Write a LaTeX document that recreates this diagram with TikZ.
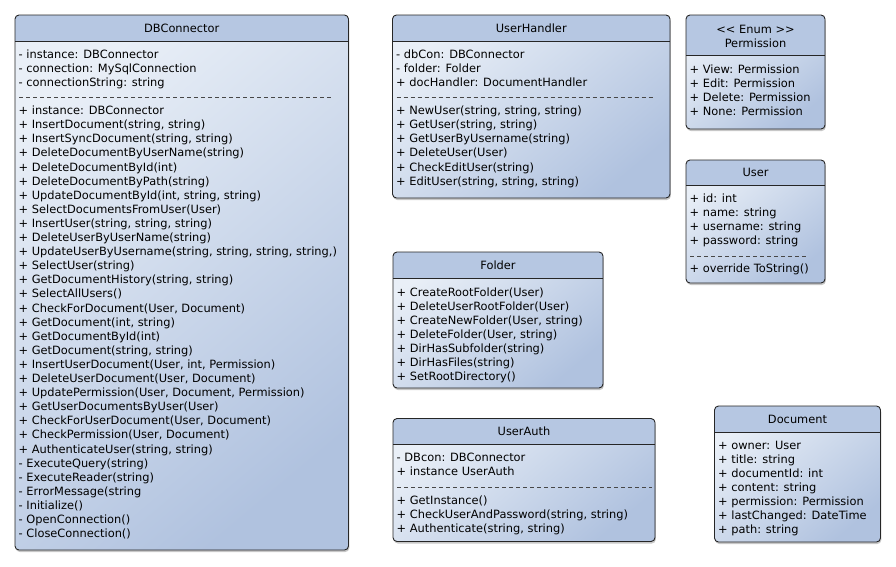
\documentclass[tikz,border=0pt]{standalone}
\usepackage{fontspec}
\setmainfont{DejaVu Sans}

\definecolor{classhead}{RGB}{182,199,226}
\definecolor{classlight}{RGB}{233,239,247}
\definecolor{classdark}{RGB}{176,194,223}
\definecolor{classline}{RGB}{38,38,38}

\tikzset{
	classbox/.style={draw=classline, line width=0.9pt, rounded corners=4pt},
	classbody/.style={rounded corners=4pt, top color=classlight, bottom color=classdark, shading angle=40},
	classshadow/.style={fill=black, opacity=0.22, rounded corners=4pt},
	classname/.style={anchor=base, inner sep=0pt, font=\fontsize{11.4}{14.1}\selectfont},
	member/.style={anchor=base west, inner sep=0pt, font=\fontsize{11.4}{14.1}\selectfont},
	separator/.style={draw=classline!85, line width=0.8pt, dash pattern=on 4.3pt off 2.7pt}
}

% frame of one class: x1, y1, x2, y2, bottom of the name compartment
\newcommand{\classframe}[5]{
	\fill[classshadow] ($(#1,#2)+(0.8,2)$) rectangle ($(#3,#4)+(0.8,2)$);
	\shade[classbody] (#1,#2) rectangle (#3,#4);
	\begin{scope}
		\clip[rounded corners=4pt] (#1,#2) rectangle (#3,#4);
		\fill[classhead] (#1,#2) rectangle (#3,#5);
	\end{scope}
	\draw[classbox] (#1,#2) rectangle (#3,#4);
	\draw[classline, line width=0.9pt] (#1,#5) -- (#3,#5);
}

\usetikzlibrary{calc}

\begin{document}
\begin{tikzpicture}[x=1pt, y=-1pt]
	\fill[white] (0,0) rectangle (896,566);

	% DBConnector
	\classframe{15}{15}{348.5}{550}{41}
	\node[classname] (dbc) at (181.75,32.2) {DBConnector};
	\foreach \m [count=\i from 0] in {{- instance: DBConnector}, {- connection: MySqlConnection}, {- connectionString: string}}
		\node[member] (dbc-a\i) at (18.5,58.3+14.1*\i) {\m};
	\draw[separator] (19,97.5) -- (333,97.5);
	\foreach \m [count=\i from 0] in {{+ instance: DBConnector}, {+ InsertDocument(string, string)}, {+ InsertSyncDocument(string, string)},
		{+ DeleteDocumentByUserName(string)}, {+ DeleteDocumentById(int)}, {+ DeleteDocumentByPath(string)},
		{+ UpdateDocumentById(int, string, string)}, {+ SelectDocumentsFromUser(User)}, {+ InsertUser(string, string, string)},
		{+ DeleteUserByUserName(string)}, {+ UpdateUserByUsername(string, string, string, string,)}, {+ SelectUser(string)},
		{+ GetDocumentHistory(string, string)}, {+ SelectAllUsers()}, {+ CheckForDocument(User, Document)},
		{+ GetDocument(int, string)}, {+ GetDocumentById(int)}, {+ GetDocument(string, string)},
		{+ InsertUserDocument(User, int, Permission)}, {+ DeleteUserDocument(User, Document)},
		{+ UpdatePermission(User, Document, Permission)}, {+ GetUserDocumentsByUser(User)},
		{+ CheckForUserDocument(User, Document)}, {+ CheckPermission(User, Document)}, {+ AuthenticateUser(string, string)},
		{- ExecuteQuery(string)}, {- ExecuteReader(string)}, {- ErrorMessage(string}, {- Initialize()},
		{- OpenConnection()}, {- CloseConnection()}}
		\node[member] (dbc-m\i) at (18.5,114.6+14.1*\i) {\m};

	% UserHandler
	\classframe{392.5}{15}{670}{198}{41}
	\node[classname] (uh) at (531.25,32.2) {UserHandler};
	\foreach \m [count=\i from 0] in {{- dbCon: DBConnector}, {- folder: Folder}, {+ docHandler: DocumentHandler}}
		\node[member] (uh-a\i) at (396,58.3+14.1*\i) {\m};
	\draw[separator] (396.5,97.5) -- (654,97.5);
	\foreach \m [count=\i from 0] in {{+ NewUser(string, string, string)}, {+ GetUser(string, string)}, {+ GetUserByUsername(string)},
		{+ DeleteUser(User)}, {+ CheckEditUser(string)}, {+ EditUser(string, string, string)}}
		\node[member] (uh-m\i) at (396,114.6+14.1*\i) {\m};

	% Permission
	\classframe{686}{15}{825}{129}{55.5}
	\node[classname] (perm-st) at (755.5,33) {<\kern0pt< Enum >\kern0pt>};
	\node[classname] (perm) at (755.5,47) {Permission};
	\foreach \m [count=\i from 0] in {{+ View: Permission}, {+ Edit: Permission}, {+ Delete: Permission}, {+ None: Permission}}
		\node[member] (perm-a\i) at (689.5,73.5+14.1*\i) {\m};

	% User
	\classframe{686}{160}{825}{283}{185}
	\node[classname] (user) at (755.5,176.6) {User};
	\foreach \m [count=\i from 0] in {{+ id: int}, {+ name: string}, {+ username: string}, {+ password: string}}
		\node[member] (user-a\i) at (689.5,202.3+14.1*\i) {\m};
	\draw[separator] (690,256) -- (808,256);
	\node[member] (user-m0) at (689.5,272.8) {+ override ToString()};

	% Folder
	\classframe{393}{252}{603}{388}{278}
	\node[classname] (folder) at (498,269) {Folder};
	\foreach \m [count=\i from 0] in {{+ CreateRootFolder(User)}, {+ DeleteUserRootFolder(User)}, {+ CreateNewFolder(User, string)},
		{+ DeleteFolder(User, string)}, {+ DirHasSubfolder(string)}, {+ DirHasFiles(string)}, {+ SetRootDirectory()}}
		\node[member] (folder-m\i) at (396.5,296+14.1*\i) {\m};

	% UserAuth
	\classframe{393}{418.5}{655}{541.5}{444.5}
	\node[classname] (auth) at (524,435.5) {UserAuth};
	\foreach \m [count=\i from 0] in {{- DBcon: DBConnector}, {+ instance UserAuth}}
		\node[member] (auth-a\i) at (396.5,461.8+14.1*\i) {\m};
	\draw[separator] (397,487) -- (652,487);
	\foreach \m [count=\i from 0] in {{+ GetInstance()}, {+ CheckUserAndPassword(string, string)}, {+ Authenticate(string, string)}}
		\node[member] (auth-m\i) at (396.5,504+14.1*\i) {\m};

	% Document
	\classframe{714.5}{406}{880.5}{542}{432}
	\node[classname] (doc) at (797.5,423) {Document};
	\foreach \m [count=\i from 0] in {{+ owner: User}, {+ title: string}, {+ documentId: int}, {+ content: string},
		{+ permission: Permission}, {+ lastChanged: DateTime}, {+ path: string}}
		\node[member] (doc-a\i) at (718,449.5+14*\i) {\m};
\end{tikzpicture}
\end{document}
